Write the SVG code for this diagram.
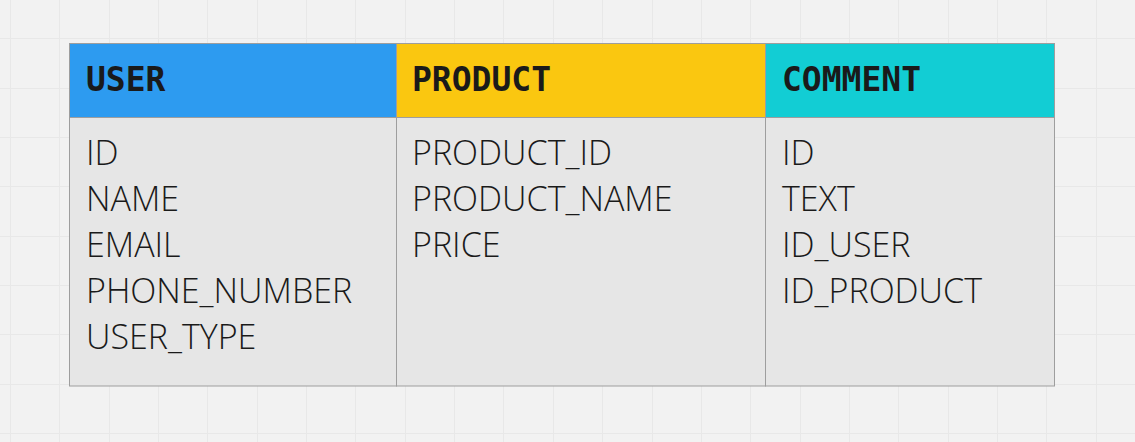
<svg xmlns="http://www.w3.org/2000/svg" width="1135" height="442" viewBox="0 0 1135 442">
  <style>
    .grid { stroke: #e8e8e8; stroke-width: 1; fill: none; }
    .cell { stroke: #9e9e9e; stroke-width: 1; }
    .head { font-family: "DejaVu Sans Mono", "Liberation Mono", monospace; font-weight: bold; font-size: 33px; fill: #1a1a1a; }
    .field { font-family: "Open Sans", "Noto Sans", sans-serif; font-weight: 300; font-size: 34px; fill: #1a1a1a; }
  </style>
  <rect x="0" y="0" width="1135" height="442" fill="#f2f2f2"/>
  <path class="grid" d="M10.5 0V442M59.5 0V442M109.5 0V442M158.5 0V442M207.5 0V442M257.5 0V442M306.5 0V442M355.5 0V442M405.5 0V442M454.5 0V442M503.5 0V442M553.5 0V442M602.5 0V442M652.5 0V442M701.5 0V442M750.5 0V442M800.5 0V442M849.5 0V442M898.5 0V442M948.5 0V442M997.5 0V442M1046.5 0V442M1096.5 0V442M0 38.5H1135M0 88.5H1135M0 137.5H1135M0 186.5H1135M0 236.5H1135M0 285.5H1135M0 334.5H1135M0 384.5H1135M0 433.5H1135"/>
  <g id="user">
    <rect class="cell" x="69.5" y="43.5" width="327" height="74" fill="#2d9bf0"/>
    <rect class="cell" x="69.5" y="117.5" width="327" height="268.5" fill="#e6e6e6"/>
    <text class="head" x="86" y="91">USER</text>
    <text class="field" x="86" y="165">ID</text>
    <text class="field" x="86" y="211">NAME</text>
    <text class="field" x="86" y="257">EMAIL</text>
    <text class="field" x="86" y="303">PHONE_NUMBER</text>
    <text class="field" x="86" y="349">USER_TYPE</text>
  </g>
  <g id="product">
    <rect class="cell" x="396.5" y="43.5" width="369" height="74" fill="#fac710"/>
    <rect class="cell" x="396.5" y="117.5" width="369" height="268.5" fill="#e6e6e6"/>
    <text class="head" x="412" y="91">PRODUCT</text>
    <text class="field" x="412" y="165">PRODUCT_ID</text>
    <text class="field" x="412" y="211">PRODUCT_NAME</text>
    <text class="field" x="412" y="257">PRICE</text>
  </g>
  <g id="comment">
    <rect class="cell" x="765.5" y="43.5" width="289" height="74" fill="#12cdd4"/>
    <rect class="cell" x="765.5" y="117.5" width="289" height="268.5" fill="#e6e6e6"/>
    <text class="head" x="782" y="91">COMMENT</text>
    <text class="field" x="782" y="165">ID</text>
    <text class="field" x="782" y="211">TEXT</text>
    <text class="field" x="782" y="257">ID_USER</text>
    <text class="field" x="782" y="303">ID_PRODUCT</text>
  </g>
  <g id="connectors"/>
</svg>
